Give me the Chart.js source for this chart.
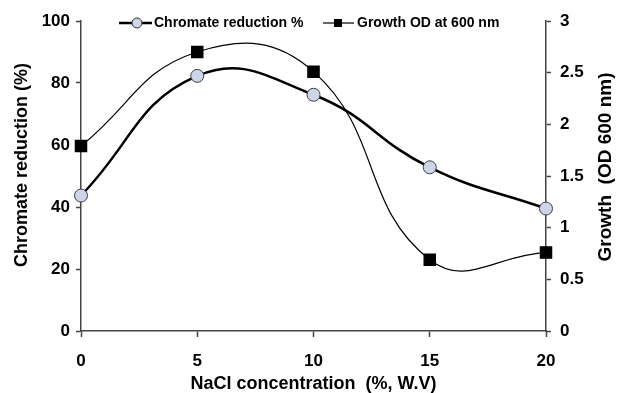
<!DOCTYPE html>
<html>
<head>
<meta charset="utf-8">
<script src="https://cdn.jsdelivr.net/npm/chart.js@4/dist/chart.umd.min.js"></script>
<style>
  html, body { margin: 0; padding: 0; background: #fff; }
  #wrap { width: 617px; height: 393px; }
</style>
</head>
<body>
<div id="wrap"><canvas id="chart"></canvas></div>
<script>
const naclConc = [0, 5, 10, 15, 20];
const chromateReduction = [43.7, 82.3, 76.2, 52.8, 39.5];
const growthOD = [1.79, 2.7, 2.51, 0.69, 0.76];
const seriesNames = ['Chromate reduction %', 'Growth OD at 600 nm'];
const axisTitles = ['NaCl concentration  (%, W.V)', 'Chromate reduction (%)', 'Growth  (OD 600 nm)'];

const FONT = "'Liberation Sans', Arial, sans-serif";
const AXIS_COLOR = '#444';

// legend + y titles drawn by hand (right title reads bottom-to-top in the original)
const extras = {
    id: 'extras',
    afterDraw(chart) {
        const ctx = chart.ctx;
        const area = chart.chartArea;
        ctx.save();
        ctx.font = `bold 14px ${FONT}`;
        ctx.textBaseline = 'middle';
        ctx.textAlign = 'left';
        const y = 23;

        // chromate
        ctx.strokeStyle = '#000';
        ctx.lineWidth = 2.5;
        ctx.beginPath(); ctx.moveTo(119, y); ctx.lineTo(152, y); ctx.stroke();
        ctx.beginPath(); ctx.arc(137, y, 5, 0, Math.PI * 2);
        ctx.fillStyle = '#cdd5e6'; ctx.fill();
        ctx.lineWidth = 1; ctx.strokeStyle = '#333'; ctx.stroke();
        ctx.fillStyle = '#000';
        ctx.fillText(seriesNames[0], 154, y);

        // growth
        ctx.strokeStyle = '#000';
        ctx.lineWidth = 1.2;
        ctx.beginPath(); ctx.moveTo(323, y); ctx.lineTo(354, y); ctx.stroke();
        ctx.fillRect(334, y - 4, 8, 8);
        ctx.fillText(seriesNames[1], 357, y);

        // y axis titles
        ctx.font = `bold 18px ${FONT}`;
        ctx.textAlign = 'center';
        const midY = (area.top + area.bottom) / 2 - 11;
        ctx.translate(22, midY);
        ctx.rotate(-Math.PI / 2);
        ctx.fillText(axisTitles[1], 0, 0);
        ctx.setTransform(1, 0, 0, 1, 0, 0);
        ctx.font = `bold 19px ${FONT}`;
        ctx.translate(606, midY + 2);
        ctx.rotate(-Math.PI / 2);
        ctx.fillText(axisTitles[2], 0, 0);
        ctx.restore();
    }
};

new Chart(document.getElementById('chart'), {
    type: 'line',
    data: {
        labels: naclConc,
        datasets: [{
            label: seriesNames[0],
            data: naclConc.map((x, i) => ({ x: x, y: chromateReduction[i] })),
            yAxisID: 'y',
            borderColor: '#000',
            borderWidth: 2.5,
            tension: 0.45,
            clip: false,
            pointStyle: 'circle',
            pointRadius: 6.5,
            pointBackgroundColor: '#cdd5e6',
            pointBorderColor: '#3a3f4a',
            pointBorderWidth: 1,
            order: 0
        }, {
            label: seriesNames[1],
            data: naclConc.map((x, i) => ({ x: x, y: growthOD[i] })),
            yAxisID: 'y2',
            borderColor: '#000',
            borderWidth: 1.2,
            tension: 0.45,
            clip: false,
            pointStyle: 'rect',
            pointRadius: 8,
            pointBackgroundColor: '#000',
            pointBorderColor: '#000',
            order: 1
        }]
    },
    options: {
        responsive: true,
        maintainAspectRatio: false,
        animation: false,
        layout: { padding: { top: 21, left: 0, right: 0, bottom: 0 } },
        plugins: {
            legend: { display: false },
            tooltip: { enabled: false }
        },
        scales: {
            x: {
                type: 'linear',
                min: 0,
                max: 20,
                ticks: {
                    stepSize: 5,
                    color: '#000',
                    font: { family: FONT, size: 17, weight: 'bold' },
                    padding: 14
                },
                grid: { drawOnChartArea: false, tickLength: 6, color: AXIS_COLOR, tickWidth: 1.5 },
                border: { color: AXIS_COLOR, width: 1.5 },
                title: {
                    display: true,
                    text: axisTitles[0],
                    color: '#000',
                    font: { family: FONT, size: 18, weight: 'bold', lineHeight: 1 },
                    padding: { top: 0, bottom: 0 }
                },
                afterFit: (s) => { s.height = 62; }
            },
            y: {
                position: 'left',
                min: 0,
                max: 100,
                ticks: {
                    stepSize: 20,
                    color: '#000',
                    font: { family: FONT, size: 17, weight: 'bold' },
                    padding: 6
                },
                grid: { drawOnChartArea: false, tickLength: 5, color: AXIS_COLOR, tickWidth: 1.5 },
                border: { color: AXIS_COLOR, width: 1.5 },
                afterFit: (s) => { s.width = 81; }
            },
            y2: {
                position: 'right',
                min: 0,
                max: 3,
                ticks: {
                    stepSize: 0.5,
                    color: '#000',
                    font: { family: FONT, size: 17, weight: 'bold' },
                    padding: 9,
                    callback: (v) => String(v)
                },
                grid: { drawOnChartArea: false, tickLength: 5, color: AXIS_COLOR, tickWidth: 1.5 },
                border: { color: AXIS_COLOR, width: 1.5 },
                afterFit: (s) => { s.width = 71; }
            }
        }
    },
    plugins: [extras]
});
</script>
</body>
</html>
